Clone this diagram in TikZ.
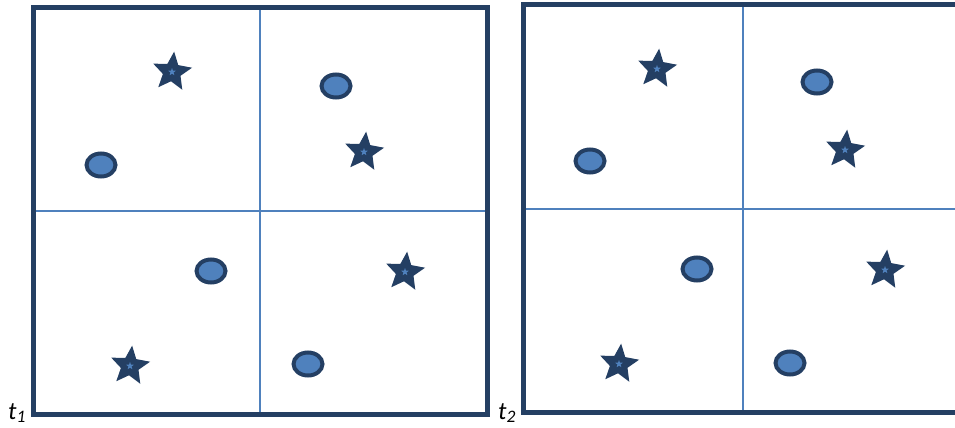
\documentclass[tikz,border=0pt]{standalone}
\usepackage{fontspec}
\setmainfont{Carlito}
\usetikzlibrary{shapes.geometric}
\definecolor{navy}{HTML}{243F63}
\definecolor{midblue}{HTML}{4F81BD}
\tikzset{
  frame/.style={draw=navy, line width=5pt},
  grid/.style={draw=midblue, line width=1.6pt},
  bigstar/.style={star, star points=5, star point ratio=2.2, minimum size=41pt, inner sep=0pt, fill=navy, draw=none, rotate=-6},
  smallstar/.style={star, star points=5, star point ratio=2.4, minimum size=8pt, inner sep=0pt, fill=midblue, draw=none},
  dot/.style={ellipse, minimum width=29pt, minimum height=23pt, inner sep=0pt, fill=midblue, draw=navy, line width=4pt},
  tlabel/.style={font=\fontsize{25}{27}\selectfont\itshape, inner sep=0pt, anchor=base west}
}
\newcommand{\mystar}[2]{\node[bigstar] (#1) at #2 {}; \node[smallstar] (#1s) at #2 {};}
\begin{document}
\begin{tikzpicture}[x=1pt, y=-1pt]
\useasboundingbox (0,0) rectangle (955,428);
% left panel
\draw[grid] (260,8) -- (260,414);
\draw[grid] (33,211) -- (487,211);
\draw[frame] (33,8) rectangle (487,414);
% right panel
\draw[grid] (743,5) -- (743,412);
\draw[grid] (523,209) -- (960,209);
\draw[frame] (960,5) -- (523,5) -- (523,412) -- (960,412);
% left objects
\mystar{s1}{(172,72)}
\mystar{s2}{(364,152)}
\mystar{s3}{(405,272)}
\mystar{s4}{(130,366)}
\node[dot] (c1) at (101,165) {};
\node[dot] (c2) at (336,86) {};
\node[dot] (c3) at (211,271) {};
\node[dot] (c4) at (308,364) {};
% right objects
\mystar{r1}{(657,69)}
\mystar{r2}{(845,150)}
\mystar{r3}{(885,270)}
\mystar{r4}{(619,364)}
\node[dot] (d1) at (590,161) {};
\node[dot] (d2) at (817,82) {};
\node[dot] (d3) at (697,269) {};
\node[dot] (d4) at (790,363) {};
% labels
\node[tlabel] (t1) at (8,419) {t\textsubscript{1}};
\node[tlabel] (t2) at (498,419) {t\textsubscript{2}};
\end{tikzpicture}
\end{document}
